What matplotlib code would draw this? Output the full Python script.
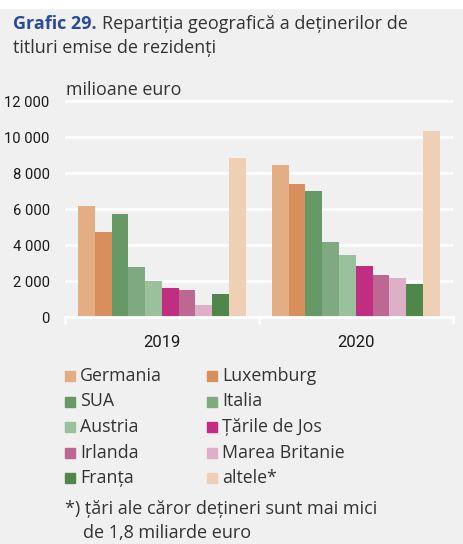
import matplotlib
matplotlib.use('Agg')
import matplotlib.pyplot as plt
from matplotlib import font_manager
from matplotlib.patches import Rectangle
import numpy as np

# Data
years = ['2019', '2020']
countries = ['Germania', 'Luxemburg', 'SUA', 'Italia', 'Austria',
             'Țările de Jos', 'Irlanda', 'Marea Britanie', 'Franța', 'altele*']
values_2019 = [6180, 4760, 5720, 2800, 2030, 1650, 1540, 690, 1280, 8850]
values_2020 = [8460, 7400, 7040, 4200, 3440, 2840, 2350, 2180, 1840, 10350]
colors = ['#E3AE83', '#D98F5B', '#669966', '#7FAA80', '#9BC09C',
          '#C12D80', '#BD6893', '#DEAFC8', '#4F874A', '#EFD0B7']
yticks = [0, 2000, 4000, 6000, 8000, 10000, 12000]
ytick_labels = ['0', '2 000', '4 000', '6 000', '8 000', '10 000', '12 000']

bg = '#F0F0F0'
txt = '#333333'

installed = {f.name for f in font_manager.fontManager.ttflist}
def pick(names):
    for n in names:
        if n in installed:
            return n
    return 'DejaVu Sans'

main_font = pick(['Open Sans', 'Noto Sans', 'DejaVu Sans'])
cond_font = pick(['Liberation Sans Narrow', 'DejaVu Sans Condensed', 'Roboto', 'DejaVu Sans'])
plt.rcParams['font.family'] = [main_font, 'DejaVu Sans']

fig = plt.figure(figsize=(4.63, 5.44), dpi=100)
fig.patch.set_facecolor(bg)
# white strip at the very top
fig.patches.append(Rectangle((0, 1 - 8 / 544), 1, 8 / 544, transform=fig.transFigure,
                             color='white', zorder=0))

ax = fig.add_axes([65 / 463, 226.7 / 544, 387.7 / 463, 218.7 / 544])
ax.set_facecolor(bg)

n = len(countries)
group_w = 0.866
bw = group_w / n
x = np.arange(len(years))
for i, (c, col) in enumerate(zip(countries, colors)):
    vals = [values_2019[i], values_2020[i]]
    ax.bar(x - group_w / 2 + bw * (i + 0.5), vals, width=bw, color=col, zorder=3)

ax.set_xlim(-0.5, 1.5)
ax.set_ylim(0, 12150)
ax.set_yticks(yticks)
ax.set_yticklabels(ytick_labels, family=cond_font, fontsize=10.6, color='#1a1a1a')
ax.grid(axis='y', color='white', linewidth=2, zorder=1)
ax.set_axisbelow(True)
for s in ax.spines.values():
    s.set_visible(False)
ax.tick_params(axis='y', length=0, pad=11)

ax.set_xticks(x)
ax.set_xticklabels(years, family=cond_font, fontsize=12, color='#1a1a1a')
ax.set_xticks([-0.5, 0.5, 1.5], minor=True)
ax.tick_params(axis='x', which='major', length=0, pad=13)
ax.tick_params(axis='x', which='minor', length=5, width=2, color='white', direction='out')
ax.axhline(0, color='white', linewidth=2, zorder=4, clip_on=False)

ax.text(0.003, 1.04, 'milioane euro', transform=ax.transAxes, fontsize=12.9,
        color=txt, va='center', ha='left')

# Title
t1 = fig.text(13 / 463, 1 - 29 / 544, 'Grafic 29.', fontsize=13, fontweight='bold',
              color='#2A4A9A', va='baseline')
fig.canvas.draw()
ext = t1.get_window_extent()
fig.text((ext.x1 + 5) / 463, 1 - 29 / 544, 'Repartiția geografică a deținerilor de',
         fontsize=13, color=txt, va='baseline')
fig.text(13 / 463, 1 - 53 / 544, 'titluri emise de rezidenți',
         fontsize=13, color=txt, va='baseline')

# Legend (two columns)
row_y = [376, 401.5, 427, 452.5, 478]
col_x = [65, 207]
for i, (c, col) in enumerate(zip(countries, colors)):
    cx = col_x[i % 2]
    cy = row_y[i // 2]
    fig.patches.append(Rectangle((cx / 463, 1 - (cy + 5) / 544), 10 / 463, 10 / 544,
                                 transform=fig.transFigure, color=col))
    fig.text((cx + 15) / 463, 1 - cy / 544, c, fontsize=12.8, color=txt, va='center')

fig.text(65 / 463, 1 - 509 / 544, '*) țări ale căror dețineri sunt mai mici',
         fontsize=13, color=txt, va='center')
fig.text(83 / 463, 1 - 533 / 544, 'de 1,8 miliarde euro',
         fontsize=13, color=txt, va='center')

fig.savefig('out.png', dpi=100, facecolor=bg)
